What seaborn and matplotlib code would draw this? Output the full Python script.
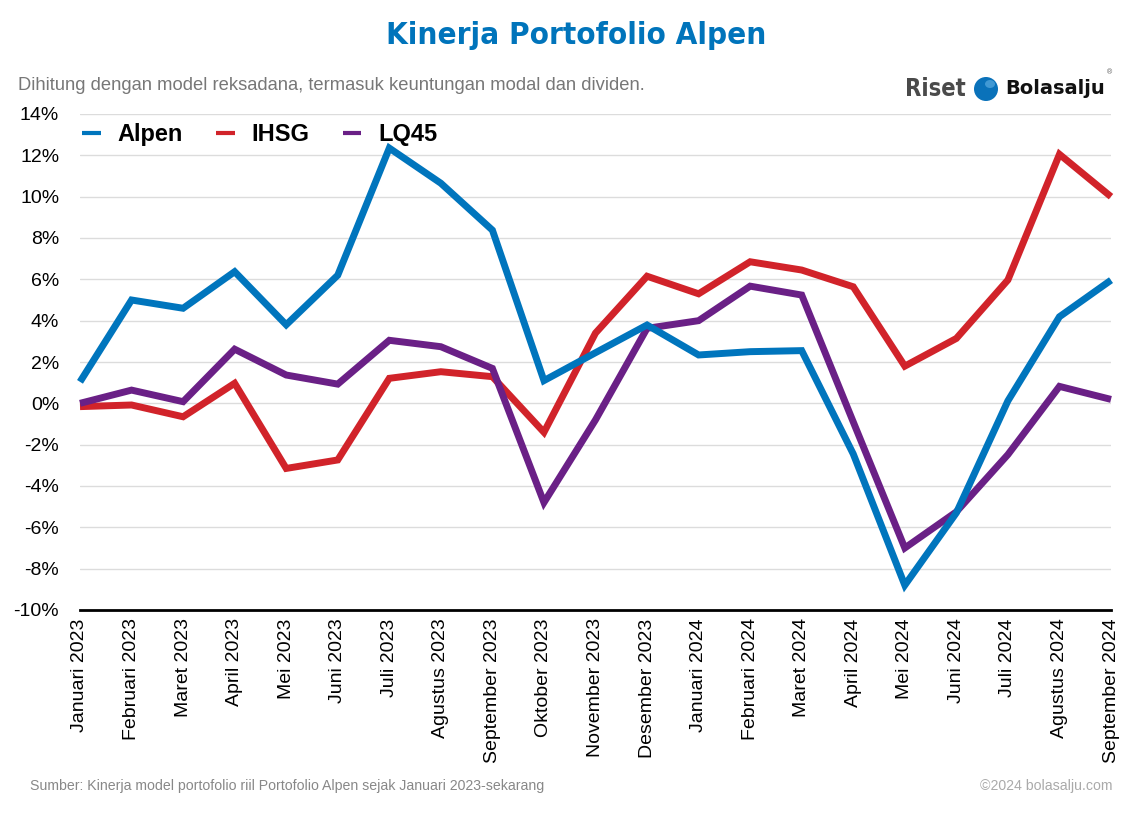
import numpy as np
import pandas as pd
import matplotlib
matplotlib.use("Agg")
import matplotlib.pyplot as plt
import seaborn as sns
from matplotlib.patches import Ellipse

# ---------------- data ----------------
months = ["Januari 2023", "Februari 2023", "Maret 2023", "April 2023", "Mei 2023",
          "Juni 2023", "Juli 2023", "Agustus 2023", "September 2023", "Oktober 2023",
          "November 2023", "Desember 2023", "Januari 2024", "Februari 2024",
          "Maret 2024", "April 2024", "Mei 2024", "Juni 2024", "Juli 2024",
          "Agustus 2024", "September 2024"]
alpen = [1.04, 5.0, 4.6, 6.37, 3.8, 6.2, 12.35, 10.65, 8.38, 1.1, 2.45, 3.79,
         2.34, 2.5, 2.55, -2.45, -8.8, -5.3, 0.12, 4.19, 5.96]
ihsg = [-0.16, -0.08, -0.65, 0.97, -3.15, -2.74, 1.21, 1.53, 1.29, -1.4, 3.4,
        6.15, 5.3, 6.85, 6.45, 5.64, 1.8, 3.14, 5.97, 12.05, 10.0]
lq45 = [0.0, 0.64, 0.08, 2.62, 1.37, 0.93, 3.05, 2.74, 1.69, -4.8, -0.8, 3.63,
        4.0, 5.67, 5.24, -0.9, -7.0, -5.25, -2.48, 0.82, 0.19]
series_names = ["Alpen", "IHSG", "LQ45"]
series_colors = ["#0075BD", "#D1232A", "#6A2086"]
yticks = [-10, -8, -6, -4, -2, 0, 2, 4, 6, 8, 10, 12, 14]
ytick_labels = [f"{v}%" for v in yticks]

title = "Kinerja Portofolio Alpen"
subtitle = "Dihitung dengan model reksadana, termasuk keuntungan modal dan dividen."
source = "Sumber: Kinerja model portofolio riil Portofolio Alpen sejak Januari 2023-sekarang"
copyright_txt = "\u00a92024 bolasalju.com"

# ---------------- frame ----------------
pos = list(range(len(months)))
df = pd.concat([
    pd.DataFrame({"pos": pos, "value": vals, "series": name})
    for name, vals in zip(series_names, [alpen, ihsg, lq45])
], ignore_index=True)

sns.set_theme(style="white")
plt.rcParams['font.family'] = ['Liberation Sans', 'DejaVu Sans']
plt.rcParams['text.color'] = 'black'

W, H = 1132, 816
fig = plt.figure(figsize=(W / 100, H / 100), dpi=100)
fig.patch.set_facecolor("white")

ax_l, ax_r, ax_t, ax_b = 80, 1111, 114, 610
ax = fig.add_axes([ax_l / W, 1 - ax_b / H, (ax_r - ax_l) / W, (ax_b - ax_t) / H])

sns.lineplot(data=df, x="pos", y="value", hue="series", hue_order=series_names,
             palette=series_colors, linewidth=5, ax=ax, legend=True, sort=False)

zorders = {"Alpen": 5, "IHSG": 3, "LQ45": 4}
for line, name in zip(ax.lines[:3], series_names):
    line.set_zorder(zorders[name])
    line.set_solid_joinstyle("miter")
    line.set_solid_capstyle("butt")
    line.set_clip_on(False)

ax.set_xlim(0, len(months) - 1)
ax.set_ylim(-10, 14)
ax.set_xticks(pos)
ax.set_xticklabels(months, rotation=90)
ax.set_yticks(yticks)
ax.set_yticklabels(ytick_labels)
ax.set_xlabel("")
ax.set_ylabel("")

ax.yaxis.grid(True, color="#dcdcdc", linewidth=1)
ax.xaxis.grid(False)
ax.set_axisbelow(True)
for s in ["top", "right", "left"]:
    ax.spines[s].set_visible(False)
ax.spines["bottom"].set_color("black")
ax.spines["bottom"].set_linewidth(2)
ax.spines["bottom"].set_zorder(6)

ax.tick_params(axis="y", length=0, pad=15, labelsize=14, labelcolor="black")
ax.tick_params(axis="x", length=0, pad=6, labelsize=14, labelcolor="black")

handles, labels = ax.get_legend_handles_labels()
leg = ax.legend(handles, labels, loc="upper left", bbox_to_anchor=(-0.007, 1.0),
                ncol=3, frameon=False, prop={"weight": "bold", "size": 17},
                handlelength=0.8, handletextpad=0.7, columnspacing=1.4,
                borderaxespad=0, labelcolor="black")
for h in leg.get_lines():
    h.set_linewidth(3)
    h.set_solid_capstyle("butt")

# ---------------- texts ----------------
fig.text(576 / W, 1 - 36 / H, title, ha="center", va="center", fontsize=22.5,
         fontweight="bold", fontstretch="condensed", family="DejaVu Sans",
         color="#0074BB")
fig.text(18 / W, 1 - 85 / H, subtitle, ha="left", va="center", fontsize=13.2,
         color="#777777")
fig.text(30 / W, 1 - 786 / H, source, ha="left", va="center", fontsize=10.2,
         color="#888888")
fig.text(1113 / W, 1 - 786 / H, copyright_txt, ha="right", va="center",
         fontsize=10.2, color="#aaaaaa")

# logo
fig.text(905 / W, 1 - 89 / H, "Riset", ha="left", va="center", fontsize=17,
         fontweight="bold", fontstretch="condensed", family="DejaVu Sans",
         color="#4a4a4a")
fig.patches.append(Ellipse((986 / W, 1 - 89 / H), 24 / W, 24 / H,
                           transform=fig.transFigure, facecolor="#0A72BA",
                           edgecolor="none"))
fig.patches.append(Ellipse((990 / W, 1 - 84 / H), 10 / W, 8 / H,
                           transform=fig.transFigure, facecolor="#4FA3DB",
                           edgecolor="none", alpha=0.8))
fig.text(1005 / W, 1 - 89 / H, "Bolasalju", ha="left", va="center", fontsize=14,
         fontweight="bold", family=["DejaVu Sans"], color="#111111")
fig.text(1107 / W, 1 - 73 / H, "\u00ae", ha="left", va="center", fontsize=5,
         color="#555555")

fig.savefig("out.png", dpi=100, facecolor="white")
